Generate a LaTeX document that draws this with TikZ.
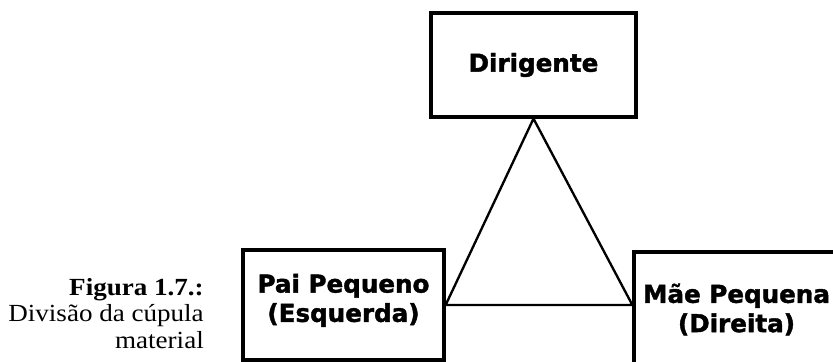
\documentclass[tikz,border=0pt]{standalone}
\usepackage{fontspec}
\newfontfamily\boxfont[BoldFeatures={FakeBold=1.6}]{DejaVu Sans}
\newfontfamily\capfont[FakeStretch=1.1]{Liberation Serif}
\usetikzlibrary{positioning}

\begin{document}
\begin{tikzpicture}[x=0.03cm,y=-0.03cm,
  caixa/.style={draw,line width=2.8pt,align=center,font=\boxfont\bfseries\fontsize{21}{25}\selectfont}]
 \useasboundingbox (0,0) rectangle (833,362);
 \clip (0,0) rectangle (833,362);
 \node[caixa,minimum width=6.15cm,minimum height=3.12cm] (D) at (533.5,65) {Dirigente}; %topo
 \node[caixa,minimum width=6.03cm,minimum height=3.3cm] (L) at (343.5,305) {Pai Pequeno\\(Esquerda)\\[-0.45cm]}; %esquerda
 \node[caixa,minimum width=6.15cm,minimum height=3.45cm] (R) at (736.5,309.5) {M\~ae Pequena\\(Direita)}; %direita
 \coordinate (RL) at (L.east -| R.west);
 \draw[line width=2pt] (D.south)--(L.east)--(RL)--cycle; %triangulo
 \node[align=right,anchor=north east,inner sep=0pt,font=\capfont\fontsize{21}{22.5}\selectfont] (cap) at (204,278)
   {\textbf{Figura 1.7.:}\\Divis\~ao da c\'upula\\material}; %legenda
\end{tikzpicture}
\end{document}
